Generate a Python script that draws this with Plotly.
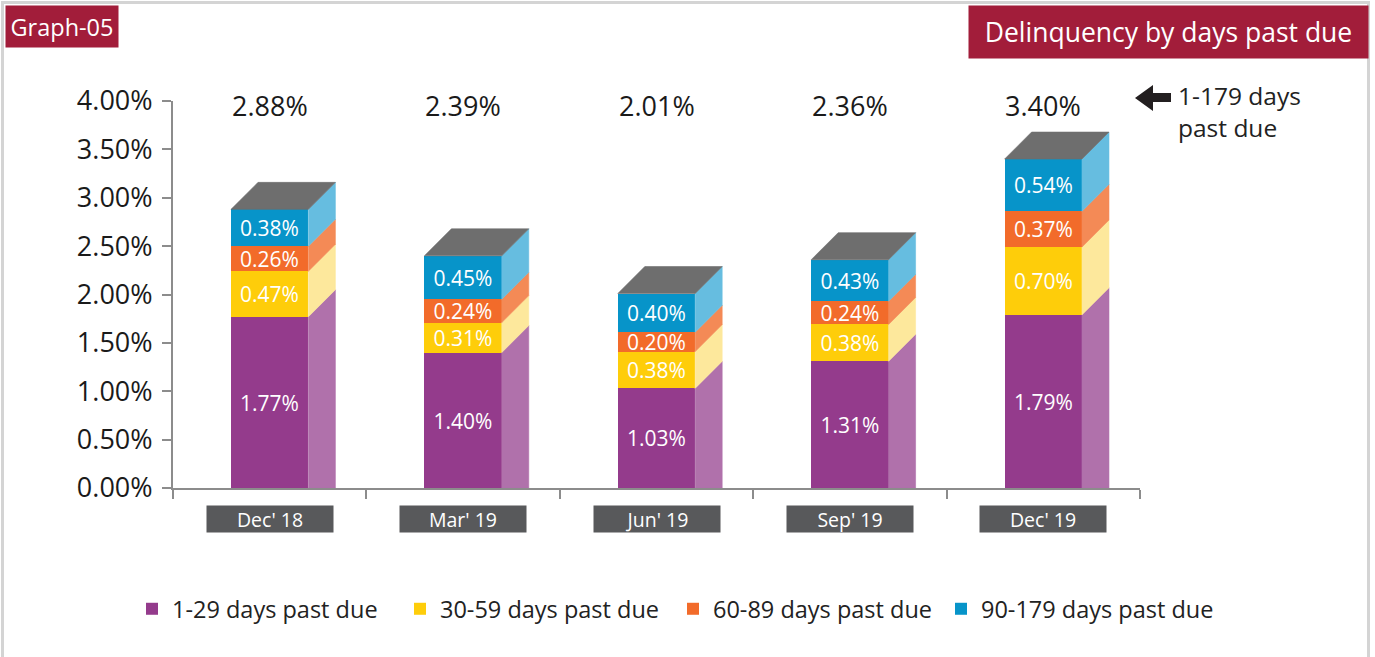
import plotly.graph_objects as go

# ---------------- data ----------------
categories = ["Dec' 18", "Mar' 19", "Jun' 19", "Sep' 19", "Dec' 19"]
series_names = ["1-29 days past due", "30-59 days past due",
                "60-89 days past due", "90-179 days past due"]
dpd_1_29 = [1.77, 1.40, 1.03, 1.31, 1.79]
dpd_30_59 = [0.47, 0.31, 0.38, 0.38, 0.70]
dpd_60_89 = [0.26, 0.24, 0.20, 0.24, 0.37]
dpd_90_179 = [0.38, 0.45, 0.40, 0.43, 0.54]
totals = [2.88, 2.39, 2.01, 2.36, 3.40]
y_ticks = [0.0, 0.5, 1.0, 1.5, 2.0, 2.5, 3.0, 3.5, 4.0]

series_values = [dpd_1_29, dpd_30_59, dpd_60_89, dpd_90_179]

# ---------------- styles ----------------
FONT = "Open Sans"
front_colors = ["#943b8c", "#fecd0a", "#f26b2a", "#0794c9"]
side_colors = ["#b071ab", "#fde89c", "#f48a56", "#66bde0"]
top_color = "#6e6e6e"
brand_red = "#a21d3a"
label_box = "#58595b"
axis_gray = "#8c8c8c"
legend_symbol_px = [148, 416, 689, 957]   # left edge of each legend swatch

W, H = 1375, 657
L, T = 173, 101
PW, PH = 967, 387
R = W - L - PW
B = H - T - PH
BAR_W = 0.4
DX = 27 / (PW / 5)        # depth in category units
DY = 27 / (PH / 4.0)      # depth in value units


def xp(px):  # page pixel -> paper x
    return (px - L) / PW


def yp(py):  # page pixel -> paper y
    return (T + PH - py) / PH


legend_ids = ["legend", "legend2", "legend3", "legend4"]

xs = list(range(len(categories)))
fig = go.Figure()

# front faces (stacked bars)
for name, vals, col, lg in zip(series_names, series_values, front_colors, legend_ids):
    fig.add_trace(go.Bar(
        x=xs, y=vals, name=name, width=BAR_W, legend=lg,
        marker=dict(color=col, line=dict(width=0)),
        text=[f"{v:.2f}%" for v in vals],
        textposition="inside", insidetextanchor="middle",
        textfont=dict(color="white", size=21, family=FONT),
        hoverinfo="skip",
    ))

# side and top faces (pseudo-3D)
for i in xs:
    base = 0.0
    xl = i - BAR_W / 2
    xr = i + BAR_W / 2
    for k, vals in enumerate(series_values):
        top = base + vals[i]
        y0b = base + DY if base > 0 else 0.0
        fig.add_trace(go.Scatter(
            x=[xr, xr + DX, xr + DX, xr, xr],
            y=[base, y0b, top + DY, top, base],
            mode="lines", fill="toself",
            fillcolor=side_colors[k], line=dict(width=0.6, color=side_colors[k]),
            hoverinfo="skip", showlegend=False,
        ))
        base = top
    fig.add_trace(go.Scatter(
        x=[xl, xl + DX, xr + DX, xr, xl],
        y=[base, base + DY, base + DY, base, base],
        mode="lines", fill="toself", fillcolor=top_color,
        line=dict(width=0.6, color=top_color),
        hoverinfo="skip", showlegend=False,
    ))

annotations = []
for i, t in zip(xs, totals):
    annotations.append(dict(
        x=i, y=yp(105), xref="x", yref="paper", text=f"{t:.2f}%",
        showarrow=False, yanchor="middle",
        font=dict(size=27, color="#1a1a1a", family=FONT),
    ))
for i, c in zip(xs, categories):
    annotations.append(dict(
        x=i, y=0, xref="x", yref="y", text=c, showarrow=False,
        yanchor="top", yshift=-17, bgcolor=label_box, width=126, height=26,
        borderpad=0, font=dict(size=19.5, color="white", family=FONT),
    ))

annotations.append(dict(
    x=xp(5), y=yp(5), xref="paper", yref="paper", xanchor="left", yanchor="top",
    text="Graph-05", showarrow=False, bgcolor=brand_red, width=112, height=41,
    borderpad=0, font=dict(size=23.5, color="white", family=FONT),
))
annotations.append(dict(
    x=xp(968), y=yp(5), xref="paper", yref="paper", xanchor="left", yanchor="top",
    text="Delinquency by days past due", showarrow=False, bgcolor=brand_red,
    width=399, height=52, borderpad=0,
    font=dict(size=26.5, color="white", family=FONT),
))
annotations.append(dict(
    x=xp(1176), y=yp(112), xref="paper", yref="paper", xanchor="left",
    yanchor="middle", align="left", text="1-179 days<br>past due",
    showarrow=False, font=dict(size=24.5, color="#222222", family=FONT),
))

arrow_pts = [(1135, 98), (1153, 85), (1153, 93), (1171, 93),
             (1171, 102), (1153, 102), (1153, 111)]
path = "M " + " L ".join(f"{xp(a):.5f},{yp(b):.5f}" for a, b in arrow_pts) + " Z"

shapes = [
    dict(type="path", xref="paper", yref="paper", path=path,
         fillcolor="#231f20", line=dict(width=0)),
    dict(type="rect", xref="paper", yref="paper", x0=xp(2.5), x1=xp(1368.5),
         y0=yp(662), y1=yp(2.5), line=dict(color="#d4d4d4", width=3),
         fillcolor="rgba(0,0,0,0)", layer="below"),
]

legend_layouts = {}
for lg, sx in zip(legend_ids, legend_symbol_px):
    legend_layouts[lg] = dict(
        orientation="h", x=xp(sx - 16), xanchor="left",
        y=yp(609), yanchor="middle", bgcolor="rgba(0,0,0,0)",
        font=dict(size=23.5, color="#222222", family=FONT),
    )

fig.update_layout(
    width=W, height=H, barmode="stack", bargap=0,
    margin=dict(l=L, r=R, t=T, b=B, autoexpand=False),
    paper_bgcolor="white", plot_bgcolor="white",
    font=dict(family=FONT, color="#1a1a1a"),
    annotations=annotations, shapes=shapes,
    uniformtext=dict(minsize=21, mode="show"),
    xaxis=dict(range=[-0.5, 4.5], tickvals=[-0.5, 0.5, 1.5, 2.5, 3.5, 4.5],
               showticklabels=False, ticks="outside", ticklen=9,
               tickcolor=axis_gray, tickwidth=2, showline=True,
               linecolor=axis_gray, linewidth=2, showgrid=False, zeroline=False),
    yaxis=dict(range=[0, 4.0], tickvals=y_ticks,
               ticktext=[f"{v:.2f}%" for v in y_ticks],
               ticks="outside", ticklen=9, tickcolor=axis_gray, tickwidth=2,
               showline=True, linecolor=axis_gray, linewidth=2,
               showgrid=False, zeroline=False, ticklabelstandoff=4,
               tickfont=dict(size=27, color="#1a1a1a", family=FONT)),
    **legend_layouts,
)

fig.write_html("out.html", config={"displayModeBar": False},
               post_script="document.body.style.margin='0';"
                           "document.body.style.overflow='hidden';")
